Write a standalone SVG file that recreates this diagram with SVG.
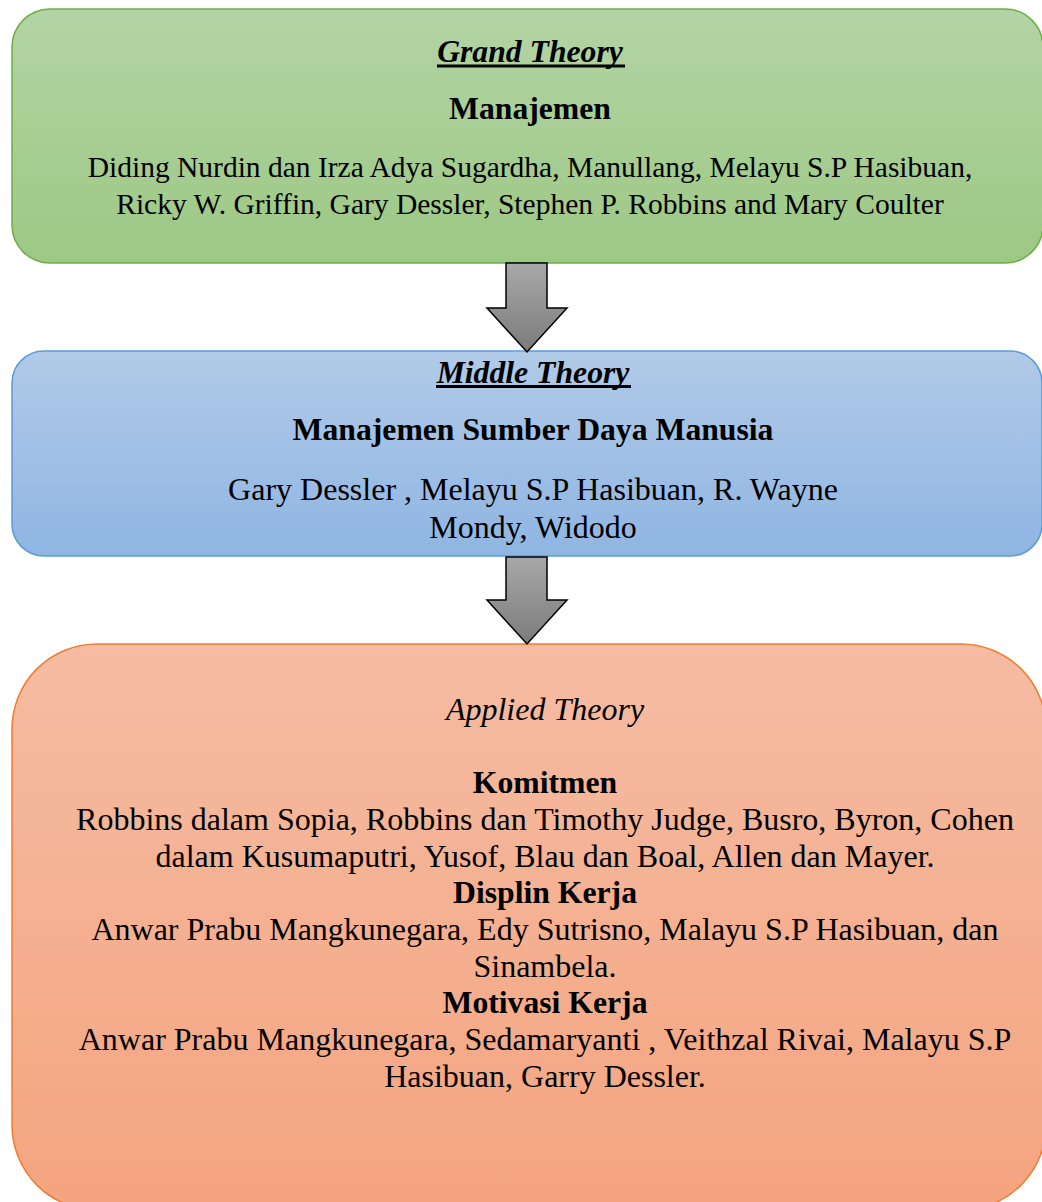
<svg xmlns="http://www.w3.org/2000/svg" width="1042" height="1202" viewBox="0 0 1042 1202">
<defs>
<linearGradient id="gGreen" x1="0" y1="0" x2="0" y2="1"><stop offset="0" stop-color="#b3d4a5"/><stop offset="1" stop-color="#9dc884"/></linearGradient>
<linearGradient id="gBlue" x1="0" y1="0" x2="0" y2="1"><stop offset="0" stop-color="#b1cae8"/><stop offset="1" stop-color="#8fb5e2"/></linearGradient>
<linearGradient id="gOrange" x1="0" y1="0" x2="0" y2="1"><stop offset="0" stop-color="#f5bca3"/><stop offset="1" stop-color="#f4a47f"/></linearGradient>
<linearGradient id="gArrow" x1="0" y1="0" x2="0" y2="1"><stop offset="0" stop-color="#a8a8a8"/><stop offset="1" stop-color="#7b7b7b"/></linearGradient>
</defs>
<style>
text{font-size:32px;fill:#000;text-anchor:middle}
.t{font-weight:bold;font-style:italic;font-size:31.7px}
.h{font-weight:bold;font-size:31.7px}
.i{font-style:italic}
.s{font-size:29.5px}
.ul{fill:#000}
.arrow{fill:url(#gArrow);stroke:#000;stroke-width:1.5}
</style>
<g font-family="Liberation Serif, Times New Roman, serif">
<g id="grand">
<rect x="12" y="9" width="1031" height="254" rx="38" fill="url(#gGreen)" stroke="#70ad47" stroke-width="1.5"/>
<text class="t" x="530" y="62">Grand Theory</text>
<rect class="ul" x="437" y="64.5" width="188" height="3"/>
<text class="h" x="530" y="119">Manajemen</text>
<text class="s" x="530" y="177">Diding Nurdin dan Irza Adya Sugardha, Manullang, Melayu S.P Hasibuan,</text>
<text class="s" x="530" y="214">Ricky W. Griffin, Gary Dessler, Stephen P. Robbins and Mary Coulter</text>
</g>
<g id="middle">
<rect x="12" y="351" width="1030" height="205" rx="32" fill="url(#gBlue)" stroke="#5b9bd5" stroke-width="1.5"/>
<text class="t" x="533" y="383">Middle Theory</text>
<rect class="ul" x="436" y="385" width="195" height="3"/>
<text class="h" x="533" y="440">Manajemen Sumber Daya Manusia</text>
<text x="533" y="500">Gary Dessler , Melayu S.P Hasibuan, R. Wayne</text>
<text x="533" y="538">Mondy, Widodo</text>
</g>
<g id="applied">
<rect x="12" y="644" width="1034" height="566" rx="85" fill="url(#gOrange)" stroke="#ed7d31" stroke-width="1.5"/>
<text class="i" x="545" y="720">Applied Theory</text>
<text class="h" x="545" y="793">Komitmen</text>
<text x="545" y="830">Robbins dalam Sopia, Robbins dan Timothy Judge, Busro, Byron, Cohen</text>
<text x="545" y="867">dalam Kusumaputri, Yusof, Blau dan Boal, Allen dan Mayer.</text>
<text class="h" x="545" y="903">Displin Kerja</text>
<text x="545" y="940">Anwar Prabu Mangkunegara, Edy Sutrisno, Malayu S.P Hasibuan, dan</text>
<text x="545" y="977">Sinambela.</text>
<text class="h" x="545" y="1013">Motivasi Kerja</text>
<text x="545" y="1050">Anwar Prabu Mangkunegara, Sedamaryanti , Veithzal Rivai, Malayu S.P</text>
<text x="545" y="1087">Hasibuan, Garry Dessler.</text>
</g>
<g id="connectors">
<path class="arrow" d="M506,263 H547 V308 H567 L527,352 L487,308 H506 Z"/>
<path class="arrow" d="M506,557 H547 V600 H567 L527,644 L487,600 H506 Z"/>
</g>
</g>
</svg>
